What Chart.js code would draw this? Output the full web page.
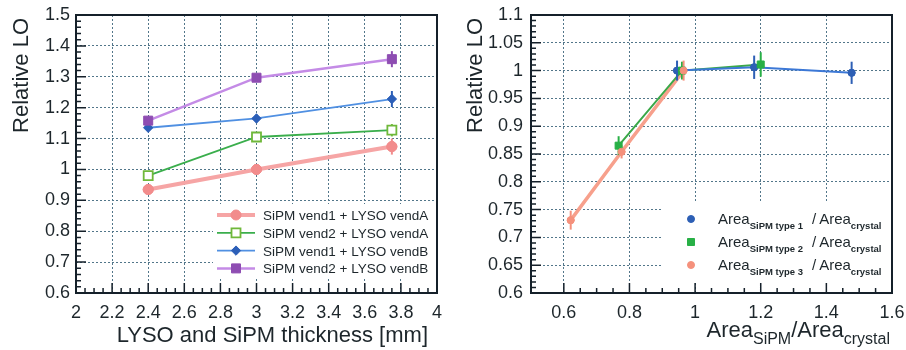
<!DOCTYPE html>
<html><head><meta charset="utf-8">
<script src="https://cdn.jsdelivr.net/npm/chart.js@4/dist/chart.umd.min.js"></script>
<style>
html,body{margin:0;padding:0;background:#fff;}
#wrap{position:relative;width:906px;height:350px;overflow:hidden;background:#fff;}
#c1{position:absolute;left:0;top:0;}
#c2{position:absolute;left:450px;top:0;}
</style></head><body>
<div id="wrap"><canvas id="c1" width="450" height="350"></canvas><canvas id="c2" width="456" height="350"></canvas></div>
<script>
// ---------- Left panel data ----------
const thickness = [2.4, 3.0, 3.75];
const loV1A = [0.935, 1.000, 1.074];
const errV1A = [0.010, 0.010, 0.026];
const loV2A = [0.980, 1.105, 1.127];
const errV2A = [0.010, 0.014, 0.020];
const loV1B = [1.135, 1.165, 1.228];
const errV1B = [0.008, 0.012, 0.026];
const loV2B = [1.158, 1.297, 1.357];
const errV2B = [0.010, 0.012, 0.026];
const leftLabels = ['SiPM vend1 + LYSO vendA', 'SiPM vend2 + LYSO vendA', 'SiPM vend1 + LYSO vendB', 'SiPM vend2 + LYSO vendB'];
const leftXTicks = [2, 2.2, 2.4, 2.6, 2.8, 3, 3.2, 3.4, 3.6, 3.8, 4];
const leftYTicks = [0.6, 0.7, 0.8, 0.9, 1.0, 1.1, 1.2, 1.3, 1.4, 1.5];
const leftXTitle = 'LYSO and SiPM thickness [mm]';
const yTitle = 'Relative LO';

// ---------- Right panel data ----------
const areaT1 = [0.945, 1.180, 1.477];
const loT1 = [1.000, 1.006, 0.996];
const errT1 = [0.018, 0.021, 0.020];
const areaT2 = [0.767, 0.960, 1.200];
const loT2 = [0.865, 1.000, 1.011];
const errT2 = [0.017, 0.016, 0.022];
const areaT3 = [0.621, 0.776, 0.965];
const loT3 = [0.731, 0.854, 1.000];
const errT3 = [0.017, 0.012, 0.018];
const rightSubs = ['SiPM type 1', 'SiPM type 2', 'SiPM type 3'];
const rightXTicks = [0.5, 0.6, 0.8, 1.0, 1.2, 1.4, 1.6];
const rightXLabels = [0.6, 0.8, 1.0, 1.2, 1.4, 1.6];
const rightYTicks = [0.6, 0.65, 0.7, 0.75, 0.8, 0.85, 0.9, 0.95, 1.0, 1.05, 1.1];

const FONT = '"Liberation Sans", Arial, Helvetica, sans-serif';
const TXT = '#1d262b';

function pts(xs, ys) { return xs.map((x, i) => ({ x: x, y: ys[i] })); }
function fmt(v) { return String(+(+v).toFixed(2)); }

function drawMarker(ctx, style, x, y, r, fill, stroke, lw) {
  ctx.save();
  ctx.beginPath();
  if (style === 'circle') ctx.arc(x, y, r, 0, Math.PI * 2);
  else if (style === 'rect') ctx.rect(x - r, y - r, 2 * r, 2 * r);
  else if (style === 'rectRot') { ctx.moveTo(x, y - r * 1.3); ctx.lineTo(x + r * 1.3, y); ctx.lineTo(x, y + r * 1.3); ctx.lineTo(x - r * 1.3, y); ctx.closePath(); }
  ctx.fillStyle = fill; ctx.fill();
  ctx.lineWidth = lw; ctx.strokeStyle = stroke; ctx.stroke();
  ctx.restore();
}

function drawRich(ctx, parts, x, baseline) {
  let cx = x;
  parts.forEach(p => {
    ctx.font = (p.bold ? 'bold ' : '') + p.size + 'px ' + FONT;
    ctx.fillText(p.t, cx, baseline + (p.dy || 0));
    cx += ctx.measureText(p.t).width + (p.gap || 0);
  });
  return cx;
}
function richWidth(ctx, parts) {
  let w = 0;
  parts.forEach(p => { ctx.font = (p.bold ? 'bold ' : '') + p.size + 'px ' + FONT; w += ctx.measureText(p.t).width + (p.gap || 0); });
  return w;
}

const rootDeco = {
  id: 'rootDeco',
  afterDatasetsDraw(chart, args, o) {
    const ctx = chart.ctx, ca = chart.chartArea;
    const xs = chart.scales.x, ys = chart.scales.y;
    ctx.save();
    // error bars
    chart.data.datasets.forEach(ds => {
      if (!ds.errors) return;
      ctx.strokeStyle = ds.errColor || ds.borderColor;
      ctx.lineWidth = ds.errWidth || 2;
      ds.data.forEach((p, i) => {
        const px = xs.getPixelForValue(p.x);
        ctx.beginPath();
        ctx.moveTo(px, ys.getPixelForValue(p.y - ds.errors[i]));
        ctx.lineTo(px, ys.getPixelForValue(p.y + ds.errors[i]));
        ctx.stroke();
      });
    });
    // redraw markers above error bars
    chart.data.datasets.forEach(ds => {
      ds.data.forEach(p => {
        drawMarker(ctx, ds.pointStyle, xs.getPixelForValue(p.x), ys.getPixelForValue(p.y), ds.pointRadius, ds.pointBackgroundColor, ds.pointBorderColor, ds.pointBorderWidth || 1);
      });
    });
    // legend box
    if (o.legend) {
      const L = o.legend;
      ctx.fillStyle = '#fff';
      ctx.fillRect(L.x, L.y, ca.right - L.x - 1, L.h);
      ctx.fillStyle = TXT;
      ctx.textBaseline = 'alphabetic';
      ctx.textAlign = 'left';
      chart.data.datasets.forEach((ds, i) => {
        const yy = L.rowY + i * L.rowH;
        if (L.line) {
          ctx.strokeStyle = ds.borderColor; ctx.lineWidth = ds.borderWidth;
          ctx.beginPath(); ctx.moveTo(L.lx0, yy); ctx.lineTo(L.lx1, yy); ctx.stroke();
        }
        drawMarker(ctx, ds.pointStyle, (L.lx0 + L.lx1) / 2, yy, ds.pointRadius, ds.pointBackgroundColor, ds.pointBorderColor, ds.pointBorderWidth || 1);
        ctx.fillStyle = TXT;
        if (L.rich) {
          drawRich(ctx, L.rich(i), L.tx, yy + 5);
          drawRich(ctx, L.rich2(i), L.tx2, yy + 5);
        } else {
          ctx.font = L.size + 'px ' + FONT;
          ctx.fillText(chart.data.datasets[i].label, L.tx, yy + 5);
        }
      });
    }
    // frame
    ctx.strokeStyle = '#15202a';
    ctx.lineWidth = 2;
    ctx.strokeRect(ca.left, ca.top, ca.right - ca.left, ca.bottom - ca.top);
    // inner ticks
    ctx.lineWidth = 1.5;
    ctx.beginPath();
    const xt = o.xMajor, yt = o.yMajor;
    for (let i = 0; i < xt.length; i++) {
      const px = xs.getPixelForValue(xt[i]);
      ctx.moveTo(px, ca.bottom); ctx.lineTo(px, ca.bottom - 10);
      if (i < xt.length - 1) {
        for (let k = 1; k < o.xMinor; k++) {
          const v = xt[i] + (xt[i + 1] - xt[i]) * k / o.xMinor;
          const qx = xs.getPixelForValue(v);
          ctx.moveTo(qx, ca.bottom); ctx.lineTo(qx, ca.bottom - 5);
        }
      }
    }
    for (let i = 0; i < yt.length; i++) {
      const py = ys.getPixelForValue(yt[i]);
      ctx.moveTo(ca.left, py); ctx.lineTo(ca.left + 10, py);
      if (i < yt.length - 1) {
        for (let k = 1; k < o.yMinor; k++) {
          const v = yt[i] + (yt[i + 1] - yt[i]) * k / o.yMinor;
          const qy = ys.getPixelForValue(v);
          ctx.moveTo(ca.left, qy); ctx.lineTo(ca.left + 5, qy);
        }
      }
    }
    ctx.stroke();
    // titles
    ctx.fillStyle = TXT;
    ctx.save();
    ctx.translate(o.yTitleX, o.yTitleTop);
    ctx.rotate(-Math.PI / 2);
    ctx.font = '22px ' + FONT;
    ctx.textAlign = 'right';
    ctx.textBaseline = 'middle';
    ctx.fillText(yTitle, 0, 0);
    ctx.restore();
    ctx.textAlign = 'left';
    ctx.textBaseline = 'alphabetic';
    const w = richWidth(ctx, o.xTitle);
    drawRich(ctx, o.xTitle, o.xTitleRight - w, o.xTitleBase);
    ctx.restore();
  }
};

function scaleOpts(ticksArr, min, max, width, height, isX, labelVals, pad) {
  return {
    type: 'linear', min: min, max: max,
    afterBuildTicks: s => { s.ticks = ticksArr.map(v => ({ value: v })); },
    afterFit: s => {
      if (isX) s.height = height; else s.width = width;
      s.paddingLeft = 0; s.paddingRight = 0; s.paddingTop = 0; s.paddingBottom = 0;
    },
    grid: { color: '#52768a', lineWidth: 1, drawTicks: false },
    border: { display: false, dash: [2, 2] },
    ticks: {
      autoSkip: false, maxRotation: 0, color: TXT, padding: pad,
      font: { family: FONT, size: 18 },
      callback: v => (labelVals && labelVals.indexOf(+(+v).toFixed(2)) < 0) ? '' : fmt(v)
    }
  };
}

function mkDs(label, xs, ys, errs, style, radius, lineColor, lineW, fill, stroke, bw) {
  return {
    label: label, data: pts(xs, ys), errors: errs, showLine: true,
    borderColor: lineColor, borderWidth: lineW, tension: 0,
    pointStyle: style, pointRadius: radius, pointBackgroundColor: fill, pointBorderColor: stroke, pointBorderWidth: bw,
    errColor: stroke === '#ffffff' ? fill : stroke, errWidth: 2
  };
}

new Chart(document.getElementById('c1'), {
  type: 'scatter',
  data: {
    datasets: [
      mkDs(leftLabels[0], thickness, loV1A, errV1A, 'circle', 5, '#f6a5a5', 4, '#f28c8c', '#f28c8c', 1),
      mkDs(leftLabels[1], thickness, loV2A, errV2A, 'rect', 4.5, '#3aae4c', 1.8, '#ffffff', '#6fb83a', 1.8),
      mkDs(leftLabels[2], thickness, loV1B, errV1B, 'rectRot', 3.6, '#5090e2', 1.8, '#2c5fb8', '#2c5fb8', 1),
      mkDs(leftLabels[3], thickness, loV2B, errV2B, 'rect', 4.5, '#c48be6', 2.5, '#8e4db2', '#8e4db2', 1)
    ]
  },
  options: {
    responsive: false, animation: false,
    layout: { padding: { left: 0, right: 13, top: 15, bottom: 0 } },
    scales: {
      x: scaleOpts(leftXTicks, 2, 4, 0, 57, true, null, 9),
      y: scaleOpts(leftYTicks, 0.6, 1.5, 76, 0, false, null, 6)
    },
    plugins: {
      legend: { display: false }, tooltip: { enabled: false },
      rootDeco: {
        xMajor: leftXTicks, yMajor: leftYTicks, xMinor: 4, yMinor: 5,
        yTitleX: 22, yTitleTop: 18,
        xTitle: [{ t: leftXTitle, size: 22 }], xTitleRight: 428, xTitleBase: 342,
        legend: { x: 213, y: 204, h: 75, rowY: 215, rowH: 17.8, lx0: 217, lx1: 255, tx: 263, size: 13.5, line: true }
      }
    }
  },
  plugins: [rootDeco]
});

new Chart(document.getElementById('c2'), {
  type: 'scatter',
  data: {
    datasets: [
      mkDs('Area SiPM type 1 / Area crystal', areaT1, loT1, errT1, 'circle', 3.5, '#3c78d6', 2, '#2d5fb5', '#2d5fb5', 1),
      mkDs('Area SiPM type 2 / Area crystal', areaT2, loT2, errT2, 'rect', 3.5, '#3aa848', 2, '#28b046', '#28b046', 1),
      mkDs('Area SiPM type 3 / Area crystal', areaT3, loT3, errT3, 'circle', 3.5, '#f7a08c', 3.5, '#f5917c', '#f5917c', 1)
    ]
  },
  options: {
    responsive: false, animation: false,
    layout: { padding: { left: 0, right: 14, top: 15, bottom: 0 } },
    scales: {
      x: scaleOpts(rightXTicks, 0.5, 1.6, 0, 57, true, rightXLabels, 9),
      y: scaleOpts(rightYTicks, 0.6, 1.1, 81, 0, false, null, 8)
    },
    plugins: {
      legend: { display: false }, tooltip: { enabled: false },
      rootDeco: {
        xMajor: rightXTicks.slice(1), yMajor: rightYTicks, xMinor: 4, yMinor: 5,
        yTitleX: 26, yTitleTop: 18,
        xTitle: [{ t: 'Area', size: 22 }, { t: 'SiPM', size: 16, dy: 7 }, { t: '/Area', size: 22 }, { t: 'crystal', size: 16, dy: 7 }],
        xTitleRight: 440, xTitleBase: 337,
        legend: {
          x: 213, y: 203, h: 80, rowY: 219, rowH: 23, lx0: 231, lx1: 251, tx: 268, tx2: 362, line: false,
          rich: i => [{ t: 'Area', size: 15 }, { t: rightSubs[i], size: 9.5, dy: 5, bold: true }],
          rich2: i => [{ t: '/', size: 15, gap: 3 }, { t: 'Area', size: 15 }, { t: 'crystal', size: 9.5, dy: 5, bold: true }]
        }
      }
    }
  },
  plugins: [rootDeco]
});
</script>
</body></html>
